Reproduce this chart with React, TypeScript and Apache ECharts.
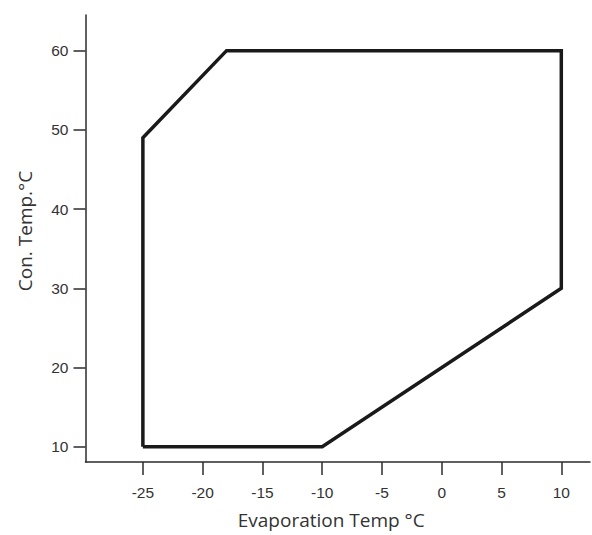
import React, { useEffect, useRef } from "react";
import * as echarts from "echarts";

const evapTemps = [-25, -25, -18, 10, 10, -10, -25];
const condTemps = [10, 49, 60, 60, 30, 10, 10];
const xTicks = [-25, -20, -15, -10, -5, 0, 5, 10];
const yTicks = [10, 20, 30, 40, 50, 60];
const xName = "Evaporation Temp \u00b0C";
const yName = "Con. Temp.\u00b0C";

export default function App() {
  const ref = useRef<HTMLDivElement>(null);
  useEffect(() => {
    if (!ref.current) return;
    const chart = echarts.init(ref.current, null, { renderer: "svg" });
    const axisColor = "#2b2b2b";
    chart.setOption({
      animation: false,
      backgroundColor: "#ffffff",
      grid: { left: 85.5, right: 2, top: 15, bottom: 73, containLabel: false },
      xAxis: {
        type: "value",
        min: -29.8,
        max: 12.4,
        name: xName,
        nameLocation: "middle",
        nameGap: 48,
        nameTextStyle: { fontFamily: "Open Sans", fontSize: 19, color: "#333", padding: [0, 13, 0, 0] },
        axisLine: { show: true, onZero: false, lineStyle: { color: axisColor, width: 1.5 } },
        axisTick: { show: true, customValues: xTicks, length: 13, inside: false, lineStyle: { color: axisColor, width: 1.5 } },
        axisLabel: { customValues: xTicks, margin: 22, fontFamily: "Liberation Sans, Arial, sans-serif", fontSize: 15.5, color: "#333" },
        splitLine: { show: false },
      },
      yAxis: {
        type: "value",
        min: 8.07,
        max: 64.5,
        name: yName,
        nameLocation: "middle",
        nameGap: 51,
        nameTextStyle: { fontFamily: "Open Sans", fontSize: 19, color: "#333", padding: [0, 0, 0, 15] },
        axisLine: { show: true, onZero: false, lineStyle: { color: axisColor, width: 1.5 } },
        axisTick: { show: true, customValues: yTicks, length: 12, inside: false, lineStyle: { color: axisColor, width: 1.5 } },
        axisLabel: { customValues: yTicks, margin: 17, fontFamily: "Liberation Sans, Arial, sans-serif", fontSize: 15.5, color: "#333" },
        splitLine: { show: false },
      },
      series: [
        {
          type: "line",
          data: evapTemps.map((x, i) => [x, condTemps[i]]),
          showSymbol: false,
          symbol: "none",
          lineStyle: { color: "#1a1a1a", width: 3.5, join: "miter" },
          silent: true,
        },
      ],
    });
    return () => chart.dispose();
  }, []);
  return <div ref={ref} style={{ width: 592, height: 535, position: "fixed", left: 0, top: 0 }} />;
}
